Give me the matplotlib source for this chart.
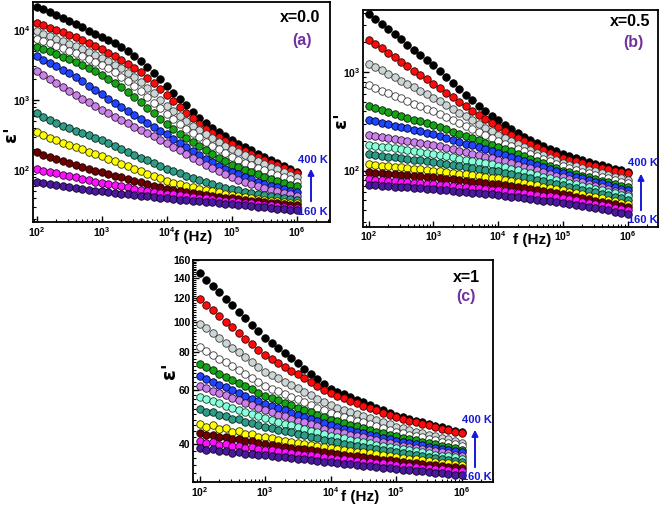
import matplotlib
matplotlib.use("Agg")
import matplotlib.pyplot as plt
from matplotlib.patches import FancyArrowPatch
from matplotlib.ticker import LogLocator, FixedLocator, NullFormatter, FixedFormatter

plt.rcParams['font.family'] = ['Liberation Sans', 'DejaVu Sans']
plt.rcParams['font.weight'] = 'bold'
plt.rcParams['mathtext.fontset'] = 'custom'
plt.rcParams['mathtext.rm'] = 'Liberation Sans:bold'
plt.rcParams['mathtext.bf'] = 'Liberation Sans:bold'
plt.rcParams['mathtext.default'] = 'bf'

# ---------------- data ----------------
freq = [100, 126, 158, 200, 251, 316, 398, 501, 631, 794,
        1000, 1259, 1585, 1995, 2512, 3162, 3981, 5012, 6310, 7943,
        1.0e4, 1.259e4, 1.585e4, 1.995e4, 2.512e4, 3.162e4, 3.981e4, 5.012e4, 6.310e4, 7.943e4,
        1.0e5, 1.259e5, 1.585e5, 1.995e5, 2.512e5, 3.162e5, 3.981e5, 5.012e5, 6.310e5, 7.943e5,
        1.0e6]

temps = ['400 K', '380 K', '360 K', '340 K', '320 K', '300 K', '280 K', '260 K',
         '240 K', '220 K', '200 K', '180 K', '160 K']

# panel (a), x = 0.0
a_black = [21380, 19410, 17620, 16000, 14520, 13180, 11910, 10770, 9727, 8790, 7943, 7161, 6383, 5636, 4932, 4266, 3589, 2972, 2427, 1963, 1585, 1276, 1030, 837, 684, 562, 470, 400, 346, 303, 269, 240, 214, 192, 172, 155, 140, 127, 115, 105, 95.5]
a_red = [12450, 11530, 10690, 9908, 9183, 8511, 7834, 7161, 6501, 5861, 5248, 4732, 4227, 3750, 3304, 2884, 2466, 2075, 1726, 1429, 1175, 964, 793, 656, 546, 457, 389, 337, 296, 263, 234, 211, 190, 172, 156, 141, 129, 118, 108, 99.1, 91.2]
a_gray = [9462, 8770, 8110, 7482, 6887, 6310, 5808, 5321, 4853, 4406, 3981, 3581, 3192, 2812, 2460, 2138, 1811, 1507, 1239, 1014, 832, 692, 583, 499, 428, 372, 325, 286, 253, 224, 200, 180, 163, 148, 135, 123, 112, 103, 94.0, 86.3, 79.4]
a_white = [7413, 6887, 6383, 5902, 5445, 5012, 4613, 4227, 3855, 3499, 3162, 2818, 2477, 2148, 1849, 1585, 1330, 1107, 916, 759, 631, 532, 455, 393, 339, 295, 257, 225, 198, 175, 155, 141, 129, 118, 109, 100, 92.5, 85.7, 79.6, 74.1, 69.2]
a_green = [5754, 5321, 4909, 4519, 4150, 3802, 3467, 3148, 2844, 2559, 2291, 2018, 1758, 1517, 1303, 1122, 933, 776, 649, 543, 457, 389, 334, 289, 251, 219, 192, 170, 151, 135, 120, 111, 102, 94.4, 87.5, 81.3, 75.9, 71.0, 66.5, 62.5, 58.9]
a_blue = [4169, 3767, 3388, 3034, 2704, 2399, 2109, 1841, 1600, 1387, 1202, 1042, 906, 789, 689, 603, 530, 467, 412, 365, 324, 283, 248, 217, 190, 166, 147, 131, 117, 106, 95.5, 87.5, 80.5, 74.5, 69.2, 64.6, 60.8, 57.4, 54.3, 51.5, 49.0]
a_violet = [2630, 2259, 1968, 1730, 1524, 1349, 1189, 1050, 927, 818, 724, 649, 581, 520, 466, 417, 375, 337, 303, 273, 245, 218, 193, 171, 152, 135, 120, 108, 96.8, 87.5, 79.4, 73.5, 68.2, 63.7, 59.7, 56.2, 53.2, 50.5, 48.0, 45.7, 43.7]
a_teal = [646, 575, 519, 472, 433, 398, 368, 340, 315, 291, 269, 244, 222, 201, 183, 166, 151, 138, 126, 115, 105, 97.3, 90.4, 83.9, 78.0, 72.4, 67.9, 63.8, 60.1, 56.8, 53.7, 51.8, 49.9, 48.1, 46.3, 44.7, 43.3, 41.9, 40.6, 39.3, 38.0]
a_yellow = [355, 321, 292, 269, 248, 229, 213, 198, 184, 171, 158, 146, 134, 124, 114, 105, 96.8, 89.5, 82.8, 76.6, 70.8, 67.0, 63.5, 60.4, 57.5, 55.0, 52.7, 50.6, 48.5, 46.6, 44.7, 43.3, 41.9, 40.6, 39.3, 38.0, 37.2, 36.3, 35.5, 34.7, 33.9]
a_maroon = [182, 167, 155, 145, 135, 126, 119, 112, 105, 99.1, 93.3, 88.3, 83.6, 79.1, 74.8, 70.8, 67.3, 64.0, 60.8, 57.8, 55.0, 53.0, 51.1, 49.2, 47.4, 45.7, 44.5, 43.3, 42.1, 40.9, 39.8, 38.9, 38.0, 37.2, 36.3, 35.5, 34.7, 33.9, 33.1, 32.4, 31.6]
a_magenta = [105, 99.1, 94.4, 90.4, 86.7, 83.2, 79.4, 75.9, 72.4, 69.2, 66.1, 63.7, 61.4, 59.2, 57.0, 55.0, 53.2, 51.5, 49.9, 48.3, 46.8, 45.5, 44.3, 43.1, 41.9, 40.7, 39.8, 38.9, 38.0, 37.2, 36.3, 35.5, 34.7, 33.9, 33.1, 32.4, 31.6, 30.9, 30.2, 29.5, 28.8]
a_purple = [67.6, 65.5, 63.4, 61.4, 59.4, 57.5, 56.0, 54.5, 53.0, 51.5, 50.1, 49.0, 47.9, 46.8, 45.7, 44.7, 43.7, 42.7, 41.7, 40.7, 39.8, 39.1, 38.4, 37.7, 37.0, 36.3, 35.6, 35.0, 34.4, 33.7, 33.1, 32.4, 31.8, 31.1, 30.5, 29.9, 29.2, 28.6, 28.1, 27.5, 26.9]

# panel (b), x = 0.5
b_black = [3900, 3459, 3069, 2723, 2415, 2143, 1901, 1687, 1496, 1327, 1178, 1021, 885, 769, 670, 586, 515, 455, 404, 360, 322, 290, 264, 240, 221, 204, 190, 177, 166, 156, 148, 141, 134, 128, 122.5, 117.5, 112.7, 108.4, 104.2, 100.5, 96.8]
b_red = [2138, 1928, 1738, 1567, 1413, 1274, 1148, 1035, 933, 841, 759, 682, 614, 552, 498, 449, 406, 366, 332, 302, 275, 252, 232, 215, 199, 185, 173, 162, 152, 143, 135, 129, 124, 119, 114.6, 110.4, 106.4, 102.8, 99.5, 96.4, 93.3]
b_gray = [1216, 1122, 1037, 957, 885, 817, 755, 697, 644, 594, 550, 504, 461, 423, 387, 355, 325, 298, 273, 250, 229, 213, 198, 185, 173, 162, 152, 143, 135, 127, 120, 115, 111, 106, 102, 98, 94, 90, 86, 83, 79.4]
b_white = [733, 690, 649, 611, 574, 541, 508, 479, 450, 424, 398, 372, 347, 324, 302, 282, 263, 245, 229, 214, 200, 188, 177, 167, 157, 148, 139, 131, 124, 116, 110, 105, 101, 97.5, 93.8, 90.2, 86.7, 83.4, 80.2, 77.1, 74.1]
b_green = [448, 429, 410, 393, 376, 360, 344, 329, 315, 301, 288, 274, 261, 248, 236, 224, 213, 202, 192, 183, 174, 164, 156, 147, 139, 132, 125, 118, 112, 106, 100, 96.2, 92.5, 88.9, 85.5, 82.2, 79.1, 76.0, 73.1, 70.3, 67.6]
b_blue = [327, 317, 306, 296, 286, 277, 268, 259, 251, 242, 234, 224, 215, 206, 197, 188, 180, 173, 165, 158, 151, 144, 137, 131, 125, 119, 113, 108, 103, 98, 93.3, 89.7, 86.3, 83.0, 79.8, 76.7, 73.8, 71.0, 68.2, 65.6, 63.1]
b_violet = [231, 225, 220, 215, 210, 205, 200, 195, 191, 186, 182, 176, 170, 164, 158, 153, 148, 143, 138, 133, 129, 124, 119, 114, 109, 105, 100.5, 96.4, 92.5, 88.7, 85.1, 81.8, 78.7, 75.7, 72.8, 70.0, 67.3, 64.7, 62.2, 59.8, 57.5]
b_lightcyan = [182.4, 178.6, 174.9, 171.3, 167.7, 164.2, 160.8, 157.4, 154.2, 151.0, 147.9, 143.9, 140.0, 136.1, 132.4, 128.8, 125.3, 121.9, 118.6, 115.3, 112.2, 108.1, 104.2, 100.5, 96.8, 93.3, 89.9, 86.7, 83.6, 80.5, 77.6, 75.0, 72.4, 70.0, 67.6, 65.3, 63.1, 61.0, 58.9, 56.9, 55.0]
b_teal = [145.5, 143.1, 140.7, 138.3, 136.0, 133.7, 131.5, 129.3, 127.1, 125.0, 123.0, 120.2, 117.5, 114.8, 112.2, 109.6, 107.2, 104.7, 102.3, 100.0, 97.7, 94.6, 91.6, 88.7, 85.9, 83.2, 80.5, 78.0, 75.5, 73.1, 70.8, 68.5, 66.2, 64.1, 61.9, 59.9, 57.9, 56.0, 54.2, 52.4, 50.7]
b_yellow = [115.1, 113.5, 111.9, 110.4, 108.8, 107.3, 105.8, 104.4, 102.9, 101.5, 100.0, 98.2, 96.4, 94.6, 92.9, 91.2, 89.5, 87.9, 86.3, 84.7, 83.2, 80.9, 78.7, 76.6, 74.5, 72.4, 70.5, 68.5, 66.7, 64.9, 63.1, 61.1, 59.2, 57.3, 55.5, 53.7, 52.0, 50.4, 48.8, 47.3, 45.7]
b_maroon = [96.2, 95.0, 93.9, 92.7, 91.6, 90.6, 89.5, 88.4, 87.3, 86.3, 85.1, 83.8, 82.4, 81.1, 79.8, 78.5, 77.3, 76.0, 74.8, 73.6, 72.4, 70.8, 69.2, 67.6, 66.1, 64.6, 63.1, 61.7, 60.3, 58.9, 57.5, 55.8, 54.2, 52.6, 51.0, 49.5, 48.0, 46.6, 45.2, 43.9, 42.7]
b_magenta = [81.1, 80.2, 79.3, 78.4, 77.5, 76.6, 75.8, 74.9, 74.1, 73.3, 72.4, 71.4, 70.5, 69.5, 68.5, 67.6, 66.7, 65.8, 64.9, 64.0, 63.1, 61.9, 60.8, 59.7, 58.6, 57.5, 56.5, 55.5, 54.5, 53.5, 52.5, 51.1, 49.7, 48.3, 47.0, 45.7, 44.5, 43.3, 42.1, 40.9, 39.8]
b_purple = [71.6, 70.9, 70.1, 69.4, 68.7, 68.0, 67.3, 66.6, 65.9, 65.2, 64.6, 63.7, 62.8, 61.9, 61.1, 60.3, 59.4, 58.6, 57.8, 57.1, 56.2, 55.2, 54.2, 53.2, 52.2, 51.3, 50.4, 49.5, 48.6, 47.7, 46.8, 45.6, 44.5, 43.4, 42.3, 41.3, 40.3, 39.3, 38.3, 37.4, 36.3]

# panel (c), x = 1
c_black = [145, 138.1, 131.5, 125.3, 119.3, 113.6, 108.2, 103.1, 98.2, 93.5, 89.0, 85.6, 82.4, 79.3, 76.3, 73.4, 70.6, 67.9, 65.3, 62.9, 60.5, 59.3, 58.1, 56.9, 55.8, 54.7, 53.6, 52.5, 51.5, 50.5, 49.5, 48.9, 48.3, 47.6, 47.0, 46.4, 45.9, 45.3, 44.7, 44.2, 43.6]
c_red = [119, 114.1, 109.4, 104.8, 100.5, 96.4, 92.4, 88.5, 84.9, 81.4, 78.0, 75.8, 73.6, 71.5, 69.5, 67.5, 65.6, 63.8, 62.0, 60.2, 58.5, 57.4, 56.4, 55.4, 54.4, 53.4, 52.5, 51.5, 50.6, 49.7, 48.8, 48.2, 47.6, 47.1, 46.5, 46.0, 45.4, 44.9, 44.3, 43.8, 43.3]
c_gray = [99, 95.5, 92.1, 88.8, 85.7, 82.7, 79.7, 76.9, 74.2, 71.6, 69.0, 67.3, 65.6, 63.9, 62.3, 60.8, 59.2, 57.8, 56.3, 54.9, 53.5, 52.6, 51.8, 51.0, 50.1, 49.3, 48.5, 47.8, 47.0, 46.3, 45.5, 45.0, 44.4, 43.9, 43.4, 42.9, 42.4, 41.9, 41.4, 40.9, 40.4]
c_white = [83, 80.6, 78.3, 76.1, 73.9, 71.8, 69.7, 67.7, 65.8, 63.9, 62.0, 60.7, 59.5, 58.3, 57.1, 56.0, 54.8, 53.7, 52.6, 51.6, 50.5, 49.8, 49.1, 48.4, 47.7, 47.0, 46.4, 45.7, 45.1, 44.4, 43.8, 43.3, 42.9, 42.4, 42.0, 41.6, 41.1, 40.7, 40.3, 39.9, 39.5]
c_green = [73, 71.3, 69.6, 67.9, 66.3, 64.8, 63.2, 61.7, 60.3, 58.9, 57.5, 56.5, 55.5, 54.5, 53.5, 52.5, 51.6, 50.7, 49.8, 48.9, 48.0, 47.4, 46.8, 46.2, 45.6, 45.0, 44.5, 43.9, 43.4, 42.8, 42.3, 41.9, 41.5, 41.1, 40.7, 40.3, 39.9, 39.5, 39.1, 38.7, 38.3]
c_blue = [66.5, 65.1, 63.8, 62.5, 61.2, 59.9, 58.7, 57.5, 56.3, 55.1, 54.0, 53.1, 52.3, 51.5, 50.6, 49.8, 49.0, 48.3, 47.5, 46.7, 46.0, 45.5, 44.9, 44.4, 43.9, 43.4, 42.9, 42.4, 41.9, 41.5, 41.0, 40.6, 40.3, 39.9, 39.6, 39.2, 38.8, 38.5, 38.2, 37.8, 37.5]
c_violet = [62, 60.9, 59.7, 58.6, 57.6, 56.5, 55.5, 54.5, 53.5, 52.5, 51.5, 50.7, 49.9, 49.2, 48.4, 47.7, 47.0, 46.3, 45.6, 44.9, 44.2, 43.7, 43.3, 42.8, 42.4, 42.0, 41.5, 41.1, 40.6, 40.2, 39.8, 39.5, 39.1, 38.8, 38.5, 38.1, 37.8, 37.5, 37.2, 36.9, 36.6]
c_lightcyan = [57, 56.1, 55.2, 54.3, 53.4, 52.6, 51.7, 50.9, 50.1, 49.3, 48.5, 47.9, 47.2, 46.6, 46.0, 45.4, 44.8, 44.2, 43.6, 43.1, 42.5, 42.1, 41.7, 41.3, 40.9, 40.6, 40.2, 39.8, 39.4, 39.1, 38.7, 38.4, 38.1, 37.8, 37.5, 37.2, 36.9, 36.6, 36.4, 36.1, 35.8]
c_teal = [52, 51.0, 50.9, 49.7, 49.5, 48.4, 48.2, 47.2, 46.9, 46.0, 45.5, 45.0, 44.5, 44.0, 43.6, 43.1, 42.6, 42.1, 41.7, 41.2, 40.8, 40.5, 40.1, 39.8, 39.4, 39.1, 38.8, 38.5, 38.1, 37.8, 37.5, 37.2, 37.0, 36.7, 36.5, 36.2, 36.0, 35.7, 35.5, 35.2, 35.0]
c_yellow = [46.5, 45.5, 46.0, 44.6, 45.0, 43.9, 44.0, 43.0, 43.1, 42.2, 42.0, 41.7, 41.3, 41.0, 40.7, 40.3, 40.0, 39.7, 39.4, 39.1, 38.8, 38.5, 38.3, 38.0, 37.7, 37.5, 37.2, 37.0, 36.7, 36.5, 36.2, 36.0, 35.8, 35.6, 35.3, 35.1, 34.9, 34.7, 34.5, 34.3, 34.1]
c_maroon = [43.3, 42.8, 42.9, 42.0, 42.2, 41.4, 41.5, 40.8, 40.8, 40.2, 40.0, 39.7, 39.4, 39.2, 38.9, 38.6, 38.4, 38.1, 37.8, 37.6, 37.3, 37.1, 36.9, 36.6, 36.4, 36.2, 36.0, 35.8, 35.5, 35.3, 35.1, 34.9, 34.7, 34.6, 34.4, 34.2, 34.0, 33.8, 33.7, 33.5, 33.3]
c_magenta = [41.0, 40.3, 40.6, 39.8, 40.1, 39.4, 39.5, 38.9, 39.0, 38.5, 38.3, 38.1, 37.8, 37.6, 37.4, 37.1, 36.9, 36.7, 36.5, 36.2, 36.0, 35.8, 35.6, 35.4, 35.2, 35.0, 34.8, 34.6, 34.5, 34.3, 34.1, 33.9, 33.8, 33.6, 33.4, 33.3, 33.1, 33.0, 32.8, 32.7, 32.5]
c_purple = [38.8, 38.2, 38.5, 37.8, 38.0, 37.4, 37.5, 37.0, 37.1, 36.7, 36.7, 36.5, 36.3, 36.1, 35.9, 35.7, 35.6, 35.4, 35.2, 35.0, 34.8, 34.6, 34.4, 34.3, 34.1, 33.9, 33.8, 33.6, 33.4, 33.3, 33.1, 32.9, 32.8, 32.6, 32.5, 32.3, 32.2, 32.0, 31.9, 31.7, 31.6]

# colours (fill, edge) for each temperature series, 400 K -> 160 K
STYLE = {
    'black': ('#000000', '#000000'),
    'red': ('#ff0a0a', '#300000'),
    'gray': ('#cdd6d6', '#3a3a3a'),
    'white': ('#ffffff', '#3a3a3a'),
    'green': ('#16a316', '#002000'),
    'blue': ('#1f45ff', '#000030'),
    'violet': ('#c882ea', '#301030'),
    'lightcyan': ('#8affdc', '#104030'),
    'teal': ('#2e9c86', '#002018'),
    'yellow': ('#ffff00', '#303000'),
    'maroon': ('#6a0000', '#200000'),
    'magenta': ('#ff10ff', '#300030'),
    'purple': ('#4a1a9e', '#100020'),
}

panel_a = [('black', a_black), ('red', a_red), ('gray', a_gray), ('white', a_white),
           ('green', a_green), ('blue', a_blue), ('violet', a_violet), ('teal', a_teal),
           ('yellow', a_yellow), ('maroon', a_maroon), ('magenta', a_magenta), ('purple', a_purple)]
panel_b = [('black', b_black), ('red', b_red), ('gray', b_gray), ('white', b_white),
           ('green', b_green), ('blue', b_blue), ('violet', b_violet), ('lightcyan', b_lightcyan),
           ('teal', b_teal), ('yellow', b_yellow), ('maroon', b_maroon), ('magenta', b_magenta),
           ('purple', b_purple)]
panel_c = [('black', c_black), ('red', c_red), ('gray', c_gray), ('white', c_white),
           ('green', c_green), ('blue', c_blue), ('violet', c_violet), ('lightcyan', c_lightcyan),
           ('teal', c_teal), ('yellow', c_yellow), ('maroon', c_maroon), ('magenta', c_magenta),
           ('purple', c_purple)]

W, H = 661, 505
fig = plt.figure(figsize=(W / 100, H / 100), dpi=100)


def rect(l, t, r, b):
    return [l / W, 1 - b / H, (r - l) / W, (b - t) / H]


def fx(x):
    return x / W


def fy(y):
    return 1 - y / H


def draw(ax, series, xlim, ylim):
    for name, vals in series:
        fc, ec = STYLE[name]
        ax.plot(freq, vals, linestyle='none', marker='o', markersize=5.4,
                markerfacecolor=fc, markeredgecolor=ec, markeredgewidth=0.6)
    ax.set_xscale('log')
    ax.set_yscale('log')
    ax.set_xlim(*xlim)
    ax.set_ylim(*ylim)
    ax.xaxis.set_major_locator(LogLocator(base=10, numticks=10))
    ax.xaxis.set_minor_locator(LogLocator(base=10, subs=range(2, 10), numticks=20))
    ax.xaxis.set_minor_formatter(NullFormatter())
    ax.tick_params(which='both', direction='in', top=False, right=False,
                   labelsize=7.5, pad=2)
    ax.tick_params(which='major', length=4, width=1.0)
    ax.tick_params(which='minor', length=2.2, width=0.8)
    for s in ax.spines.values():
        s.set_linewidth(1.3)


def annotate_range(xc, y_top_text, y_bot_text, arrow_bottom, arrow_top):
    blue = '#1818d8'
    fig.text(fx(xc), fy(y_top_text), '400 K', color=blue, fontsize=8,
             fontweight='bold', ha='center', va='center')
    fig.text(fx(xc), fy(y_bot_text), '160 K', color=blue, fontsize=8,
             fontweight='bold', ha='center', va='center')
    arr = FancyArrowPatch((fx(xc - 2), fy(arrow_bottom)), (fx(xc - 2), fy(arrow_top)),
                          transform=fig.transFigure, arrowstyle='-|>',
                          mutation_scale=9, color=blue, lw=1.4)
    fig.add_artist(arr)


# ---- panel (a)
axa = fig.add_axes(rect(33, 2, 330, 222))
draw(axa, panel_a, (87, 3.24e6), (18.4, 24800))
axa.yaxis.set_major_locator(LogLocator(base=10, numticks=10))
axa.yaxis.set_minor_locator(LogLocator(base=10, subs=range(2, 10), numticks=20))
axa.yaxis.set_minor_formatter(NullFormatter())
fig.text(fx(300), fy(17), 'x=0.0', fontsize=11.5, fontweight='bold', ha='center', va='center')
fig.text(fx(302), fy(40), '(a)', fontsize=11.5, fontweight='bold', color='#7030a0',
         ha='center', va='center')
fig.text(fx(193), fy(237), 'f (Hz)', fontsize=11, fontweight='bold', ha='center', va='center')
fig.text(fx(11), fy(134), "ε'", fontsize=13, fontweight='bold', rotation=90,
         ha='center', va='center', family=['DejaVu Sans'])
annotate_range(313, 160, 212, 204, 166)

# ---- panel (b)
axb = fig.add_axes(rect(363, 9.5, 658, 226.5))
draw(axb, panel_b, (81.8, 2.95e6), (27, 4315))
axb.yaxis.set_major_locator(LogLocator(base=10, numticks=10))
axb.yaxis.set_minor_locator(LogLocator(base=10, subs=range(2, 10), numticks=20))
axb.yaxis.set_minor_formatter(NullFormatter())
fig.text(fx(630), fy(21), 'x=0.5', fontsize=11.5, fontweight='bold', ha='center', va='center')
fig.text(fx(633), fy(43), '(b)', fontsize=11.5, fontweight='bold', color='#7030a0',
         ha='center', va='center')
fig.text(fx(532), fy(240), 'f (Hz)', fontsize=11, fontweight='bold', ha='center', va='center')
fig.text(fx(341), fy(120), "ε'", fontsize=13, fontweight='bold', rotation=90,
         ha='center', va='center', family=['DejaVu Sans'])
annotate_range(643, 163, 220, 213, 171)

# ---- panel (c)
axc = fig.add_axes(rect(193, 260, 493, 482))
draw(axc, panel_c, (79.4, 3.02e6), (30, 160))
c_ticks = [40, 60, 80, 100, 120, 140, 160]
axc.yaxis.set_major_locator(FixedLocator(c_ticks))
axc.yaxis.set_major_formatter(FixedFormatter([str(t) for t in c_ticks]))
axc.yaxis.set_minor_locator(FixedLocator([v for v in range(30, 161, 2) if v not in c_ticks]))
axc.yaxis.set_minor_formatter(NullFormatter())
fig.text(fx(466), fy(277), 'x=1', fontsize=11.5, fontweight='bold', ha='center', va='center')
fig.text(fx(466), fy(297), '(c)', fontsize=11.5, fontweight='bold', color='#7030a0',
         ha='center', va='center')
fig.text(fx(360), fy(497), 'f (Hz)', fontsize=11, fontweight='bold', ha='center', va='center')
fig.text(fx(169), fy(371), "ε'", fontsize=14, fontweight='bold', rotation=90,
         ha='center', va='center', family=['DejaVu Sans'])
annotate_range(477, 420, 477, 470, 427)

fig.savefig('out.png', dpi=100)
